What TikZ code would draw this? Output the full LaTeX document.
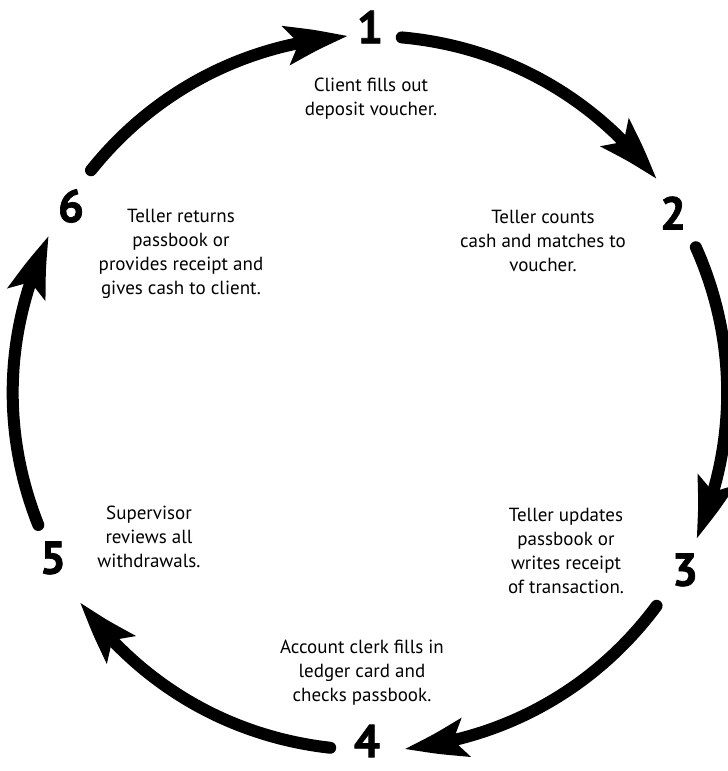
\documentclass[tikz,border=0pt]{standalone}
\usepackage{fontspec}
\setmainfont{PT Sans}
\newfontfamily\numfont[FakeBold=1.5]{PT Sans Bold}
\usetikzlibrary{positioning}
\usetikzlibrary{arrows.meta,bending}

\begin{document}
\begin{tikzpicture}[x=1pt, y=1pt,
	cyclearrow/.style={line width=12pt, line cap=round, looseness=0.9,
		-{Stealth[length=62pt, width=38pt, inset=12pt, bend]}},
	stepnum/.style={font=\numfont\fontsize{46}{46}\selectfont, inner sep=0pt},
	steptext/.style={align=center, font=\fontsize{19}{24}\selectfont, inner sep=0pt}]

	\useasboundingbox (-370,-378) rectangle (358,393);

	% numbers
	\node[stepnum] (N1) at (0,366) {1};
	\node[stepnum] (N2) at (303,180) {2};
	\node[stepnum] (N3) at (315,-177) {3};
	\node[stepnum] (N4) at (-3,-348) {4};
	\node[stepnum] (N5) at (-317,-165) {5};
	\node[stepnum] (N6) at (-299,187) {6};

	% texts
	\node[steptext] (T1) at (1,294) {Client fills out\\deposit voucher.};
	\node[steptext] (T2) at (173,152) {Teller counts\\cash and matches to\\voucher.};
	\node[steptext] (T3) at (196,-158) {Teller updates\\passbook or\\writes receipt\\of transaction.};
	\node[steptext] (T4) at (-8,-280) {Account clerk fills in\\ledger card and\\checks passbook.};
	\node[steptext] (T5) at (-221,-144) {Supervisor\\reviews all\\withdrawals.};
	\node[steptext] (T6) at (-189,139) {Teller returns\\passbook or\\provides receipt and\\gives cash to client.};

	% arrows
	\coordinate (S1) at (141.4:357);
	\coordinate (E1) at (93.5:357);
	\coordinate (S2) at (84.9:357);
	\coordinate (E2) at (36.7:357);
	\coordinate (S3) at (24.1:357);
	\coordinate (E3) at (-24.1:357);
	\coordinate (S4) at (-36.6:357);
	\coordinate (E4) at (-84.5:357);
	\coordinate (S5) at (-96.4:357);
	\coordinate (E5) at (-144.2:357);
	\coordinate (S6) at (-158.3:357);
	\coordinate (E6) at (153.9:357);

	\draw[cyclearrow] (S1) to[out=51.4, in=183.5] (E1);
	\draw[cyclearrow] (S2) to[out=-5.1, in=126.7] (E2);
	\draw[cyclearrow] (S3) to[out=-65.9, in=65.9] (E3);
	\draw[cyclearrow] (S4) to[out=-126.6, in=5.5] (E4);
	\draw[cyclearrow] (S5) to[out=173.6, in=-54.2] (E5);
	\draw[cyclearrow] (S6) to[out=111.7, in=-116.1] (E6);

\end{tikzpicture}
\end{document}
